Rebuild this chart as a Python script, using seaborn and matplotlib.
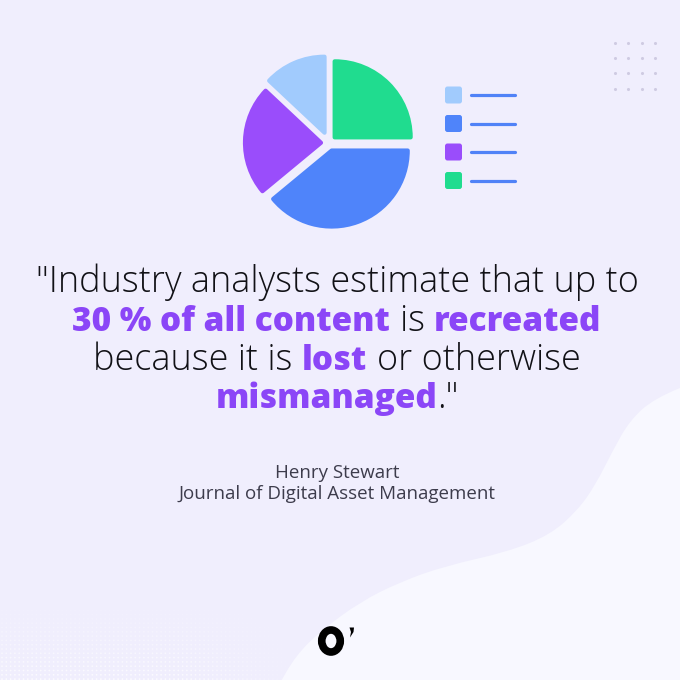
"""
Quote card: exploded pie icon with legend, a highlighted quote and its source.
"""

import numpy as np
import pandas as pd
import matplotlib
matplotlib.use("Agg")
import matplotlib.pyplot as plt
from matplotlib.patches import FancyBboxPatch, Ellipse, Polygon, PathPatch
from matplotlib.path import Path
import seaborn as sns

# DATA
SLICE_NAMES = ["Green", "Blue", "Purple", "Light blue"]
SLICE_SHARES = [25, 39, 23, 13]
SLICE_COLORS = ["#20dc8f", "#4f84fa", "#9a4dfb", "#a1cbfd"]
LEGEND_ORDER = ["Light blue", "Blue", "Purple", "Green"]

# (text, bold, space before)
QUOTE_LINES = [
    [('"Industry analysts estimate that up to', False, False)],
    [("30 % of all content", True, False), ("is", False, True), ("recreated", True, True)],
    [("because it is", False, False), ("lost", True, True), ("or otherwise", False, True)],
    [("mismanaged", True, False), ('."', False, False)],
]
AUTHOR = "Henry Stewart"
SOURCE = "Journal of Digital Asset Management"

# STYLE
BG = "#f0eefd"
BLOB = "#f8f8ff"
PURPLE = "#8b46f7"
INK = "#111116"
GREY = "#3d3c4c"
REG_FONT = "Open Sans"
BOLD_FONT = "Open Sans"
REG_W = 300
BOLD_W = 800
SRC_W = 400

sns.set_theme(style="white")
plt.rcParams["font.family"] = ["Open Sans", "DejaVu Sans"]

W = H = 680
fig = plt.figure(figsize=(6.8, 6.8), dpi=100, facecolor=BG)

# background layer in pixel coordinates (y down)
bg = fig.add_axes([0, 0, 1, 1], zorder=0)
bg.set_facecolor(BG)

# faint dot texture bottom-left
gx, gy = np.meshgrid(np.arange(2, 300, 4.3), np.arange(606, 680, 4.3))
tex = pd.DataFrame({"x": gx.ravel(), "y": gy.ravel()})
tex_alpha = np.clip((tex["y"] - 600) / 80, 0, 1) * np.clip((300 - tex["x"]) / 120, 0, 1)
bg.scatter(tex["x"], tex["y"], s=1.6, color="white", alpha=tex_alpha * 0.8, linewidths=0, zorder=1)

# lighter blob bottom-right, smoothed through the outline points
blob_pts = [(680, 388), (655, 398), (630, 420), (612, 452), (596, 484), (578, 510),
            (550, 535), (507, 552), (445, 566), (400, 582), (360, 602), (322, 630),
            (296, 655), (276, 690)]
verts = [blob_pts[0]]
codes = [Path.MOVETO]
for p, q in zip(blob_pts[1:-1], blob_pts[2:]):
    verts += [p, ((p[0] + q[0]) / 2, (p[1] + q[1]) / 2)]
    codes += [Path.CURVE3, Path.CURVE3]
verts += [blob_pts[-1], (690, 690), (690, 388), blob_pts[0]]
codes += [Path.LINETO, Path.LINETO, Path.LINETO, Path.CLOSEPOLY]
bg.add_patch(PathPatch(Path(verts, codes), facecolor=BLOB, edgecolor="none", zorder=2))

# dot grid top-right
dx, dy = np.meshgrid([615, 628, 642, 655], [43, 58, 73, 89])
dots = pd.DataFrame({"x": dx.ravel(), "y": dy.ravel()})
sns.scatterplot(data=dots, x="x", y="y", ax=bg, s=5, color="#cfcbe2", linewidth=0, zorder=3)

# legend rows
color_of = dict(zip(SLICE_NAMES, SLICE_COLORS))
for i, name in enumerate(LEGEND_ORDER):
    yc = 95 + i * 28.5
    bg.add_patch(FancyBboxPatch((445, yc - 8.5), 17, 17,
                                boxstyle="round,pad=0,rounding_size=2.5",
                                facecolor=color_of[name], edgecolor="none", zorder=4))
    bg.plot([471, 515], [yc, yc], color="#5082f7", lw=2.3, solid_capstyle="round", zorder=4)

# logo
bg.add_patch(Ellipse((331, 641), 18.5, 22, fill=False, edgecolor="black", lw=5.5, zorder=5))
bg.add_patch(Polygon([(349.5, 627.5), (354, 627.5), (353.5, 632), (350, 637.5), (351, 632)],
                     closed=True, facecolor="black", edgecolor="none", zorder=5))

bg.set_xlim(0, W)
bg.set_ylim(H, 0)
bg.axis("off")

# PIE
cx, cy, half = 329, 143, 100
pie_ax = fig.add_axes([(cx - half) / W, 1 - (cy + half) / H, 2 * half / W, 2 * half / H], zorder=1)
wedges, _ = pie_ax.pie(SLICE_SHARES, colors=SLICE_COLORS, startangle=90, counterclock=False,
                       radius=0.95, explode=[0.1, 0.1, 0.1, 0.14],
                       wedgeprops=dict(linewidth=3, joinstyle="round"))
for w, c in zip(wedges, SLICE_COLORS):
    w.set_edgecolor(c)
pie_ax.set_xlim(-1.25, 1.25)
pie_ax.set_ylim(-1.25, 1.25)
pie_ax.set_aspect("equal")
pie_ax.axis("off")

# TEXT
renderer = fig.canvas.get_renderer()


def width_px(s, size, family, weight):
    t = fig.text(0, 0, s, fontsize=size, family=family, fontweight=weight)
    w = t.get_window_extent(renderer=renderer).width
    t.remove()
    return w


def seg_width(s, size, bold):
    return width_px(s, size, BOLD_FONT if bold else REG_FONT, BOLD_W if bold else REG_W)


reg_size = 20 * 602 / seg_width(QUOTE_LINES[0][0][0], 20, False)
space = seg_width("a a", reg_size, False) - seg_width("aa", reg_size, False)
fixed = seg_width("is", reg_size, False) + 2 * space
bold_size = 20 * (529 - fixed) / (seg_width("30 % of all content", 20, True) + seg_width("recreated", 20, True))

baselines = [292, 331, 370, 408]
for segs, base in zip(QUOTE_LINES, baselines):
    widths = [seg_width(s, bold_size if b else reg_size, b) for s, b, _ in segs]
    total = sum(widths) + space * sum(sp for _, _, sp in segs)
    x = 337 - total / 2
    for (s, b, sp), w in zip(segs, widths):
        if sp:
            x += space
        fig.text(x / W, 1 - base / H, s, fontsize=bold_size if b else reg_size,
                 family=BOLD_FONT if b else REG_FONT, fontweight=BOLD_W if b else REG_W,
                 color=PURPLE if b else INK, ha="left", va="baseline")
        x += w

src_size = 12 * 316 / width_px(SOURCE, 12, REG_FONT, SRC_W)
fig.text(337 / W, 1 - 478 / H, AUTHOR, fontsize=src_size, family=REG_FONT, fontweight=SRC_W,
         color=GREY, ha="center", va="baseline")
fig.text(337 / W, 1 - 499 / H, SOURCE, fontsize=src_size, family=REG_FONT, fontweight=SRC_W,
         color=GREY, ha="center", va="baseline")

fig.savefig("out.png", dpi=100, facecolor=BG)
